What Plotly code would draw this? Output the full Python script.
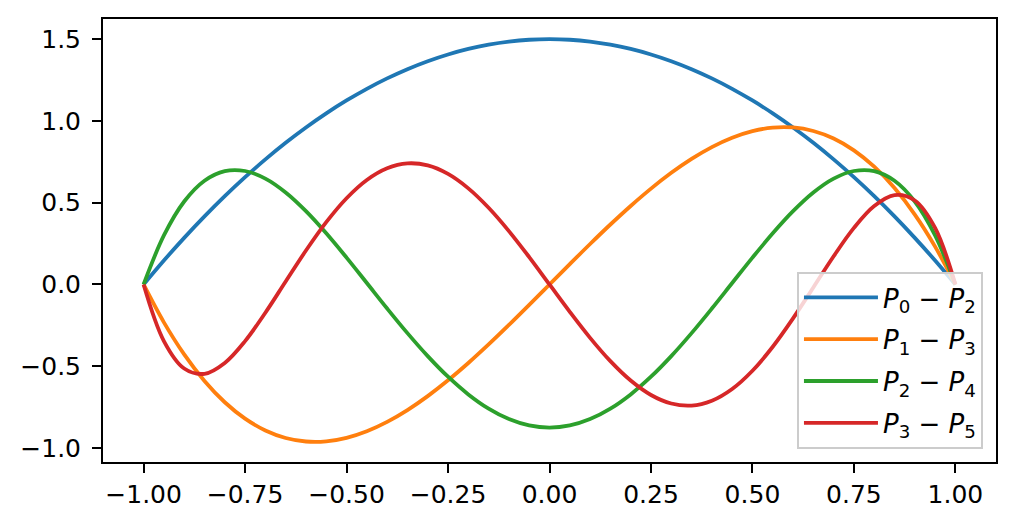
import plotly.graph_objects as go

x_vals = [-1.00, -0.95, -0.90, -0.85, -0.80, -0.75, -0.70, -0.65, -0.60, -0.55,
          -0.50, -0.45, -0.40, -0.35, -0.30, -0.25, -0.20, -0.15, -0.10, -0.05,
          0.00, 0.05, 0.10, 0.15, 0.20, 0.25, 0.30, 0.35, 0.40, 0.45,
          0.50, 0.55, 0.60, 0.65, 0.70, 0.75, 0.80, 0.85, 0.90, 0.95, 1.00]

p0_p2 = [0.0, 0.1463, 0.285, 0.4163, 0.54, 0.6563, 0.765, 0.8663, 0.96, 1.0463,
         1.125, 1.1963, 1.26, 1.3163, 1.365, 1.4063, 1.44, 1.4663, 1.485, 1.4963,
         1.5, 1.4963, 1.485, 1.4663, 1.44, 1.4063, 1.365, 1.3163, 1.26, 1.1963,
         1.125, 1.0463, 0.96, 0.8663, 0.765, 0.6563, 0.54, 0.4163, 0.285, 0.1463, 0.0]

p1_p3 = [0.0, -0.2316, -0.4275, -0.5897, -0.72, -0.8203, -0.8925, -0.9384, -0.96, -0.9591,
         -0.9375, -0.8972, -0.84, -0.7678, -0.6825, -0.5859, -0.48, -0.3666, -0.2475, -0.1247,
         0.0, 0.1247, 0.2475, 0.3666, 0.48, 0.5859, 0.6825, 0.7678, 0.84, 0.8972,
         0.9375, 0.9591, 0.96, 0.9384, 0.8925, 0.8203, 0.72, 0.5897, 0.4275, 0.2316, 0.0]

p2_p4 = [0.0, 0.2997, 0.5071, 0.6343, 0.693, 0.6938, 0.6471, 0.5622, 0.448, 0.3128,
         0.1641, 0.0087, -0.147, -0.2975, -0.4379, -0.564, -0.672, -0.7591, -0.8229, -0.8619,
         -0.875, -0.8619, -0.8229, -0.7591, -0.672, -0.564, -0.4379, -0.2975, -0.147, 0.0087,
         0.1641, 0.3128, 0.448, 0.5622, 0.6471, 0.6938, 0.693, 0.6343, 0.5071, 0.2997, 0.0]

p3_p5 = [0.0, -0.3457, -0.5136, -0.546, -0.4795, -0.3461, -0.1727, 0.018, 0.2074, 0.3809,
         0.5273, 0.6389, 0.7106, 0.7403, 0.7279, 0.6757, 0.5875, 0.4689, 0.3263, 0.1674,
         0.0, -0.1674, -0.3263, -0.4689, -0.5875, -0.6757, -0.7279, -0.7403, -0.7106, -0.6389,
         -0.5273, -0.3809, -0.2074, -0.018, 0.1727, 0.3461, 0.4795, 0.546, 0.5136, 0.3457, 0.0]

series_names = ["<i>P</i><sub>0</sub> − <i>P</i><sub>2</sub>",
                "<i>P</i><sub>1</sub> − <i>P</i><sub>3</sub>",
                "<i>P</i><sub>2</sub> − <i>P</i><sub>4</sub>",
                "<i>P</i><sub>3</sub> − <i>P</i><sub>5</sub>"]
series_values = [p0_p2, p1_p3, p2_p4, p3_p5]
colors = ["#1f77b4", "#ff7f0e", "#2ca02c", "#d62728"]

x_ticks = [-1.0, -0.75, -0.5, -0.25, 0.0, 0.25, 0.5, 0.75, 1.0]
y_ticks = [-1.0, -0.5, 0.0, 0.5, 1.0, 1.5]

fig = go.Figure()
for i, (name, vals, col) in enumerate(zip(series_names, series_values, colors)):
    fig.add_trace(go.Scatter(x=x_vals, y=vals, mode="lines", name=name,
                             legendgroup=f"g{i}",
                             line=dict(color=col, width=3.8, shape="spline", smoothing=1.0)))

font_family = "DejaVu Sans"
fig.update_layout(
    width=1014, height=526,
    margin=dict(l=103, r=18, t=19, b=64),
    paper_bgcolor="white", plot_bgcolor="white",
    font=dict(family=font_family, size=25, color="black"),
    showlegend=True,
    legend=dict(x=0.9854, y=0.0293, xanchor="right", yanchor="bottom",
                bgcolor="rgba(255,255,255,0.8)", bordercolor="#cccccc", borderwidth=2,
                font=dict(family=font_family, size=26, color="black"),
                tracegroupgap=5, itemwidth=74),
)
fig.update_xaxes(range=[-1.1, 1.1], tickvals=x_ticks, tickformat=".2f",
                 showgrid=False, zeroline=False, showline=True, linecolor="black",
                 linewidth=2, mirror=True, ticks="outside", ticklen=9, tickwidth=2,
                 tickcolor="black", tickfont=dict(size=25))
fig.update_yaxes(range=[-1.0854, 1.6231], tickvals=y_ticks, tickformat=".1f",
                 showgrid=False, zeroline=False, showline=True, linecolor="black",
                 linewidth=2, mirror=True, ticks="outside", ticklen=9, tickwidth=2,
                 tickcolor="black", tickfont=dict(size=25), ticklabelstandoff=6)

fig.write_html("out.html", config={"displayModeBar": False},
               post_script="document.body.style.margin='0';document.body.style.overflow='hidden';")
